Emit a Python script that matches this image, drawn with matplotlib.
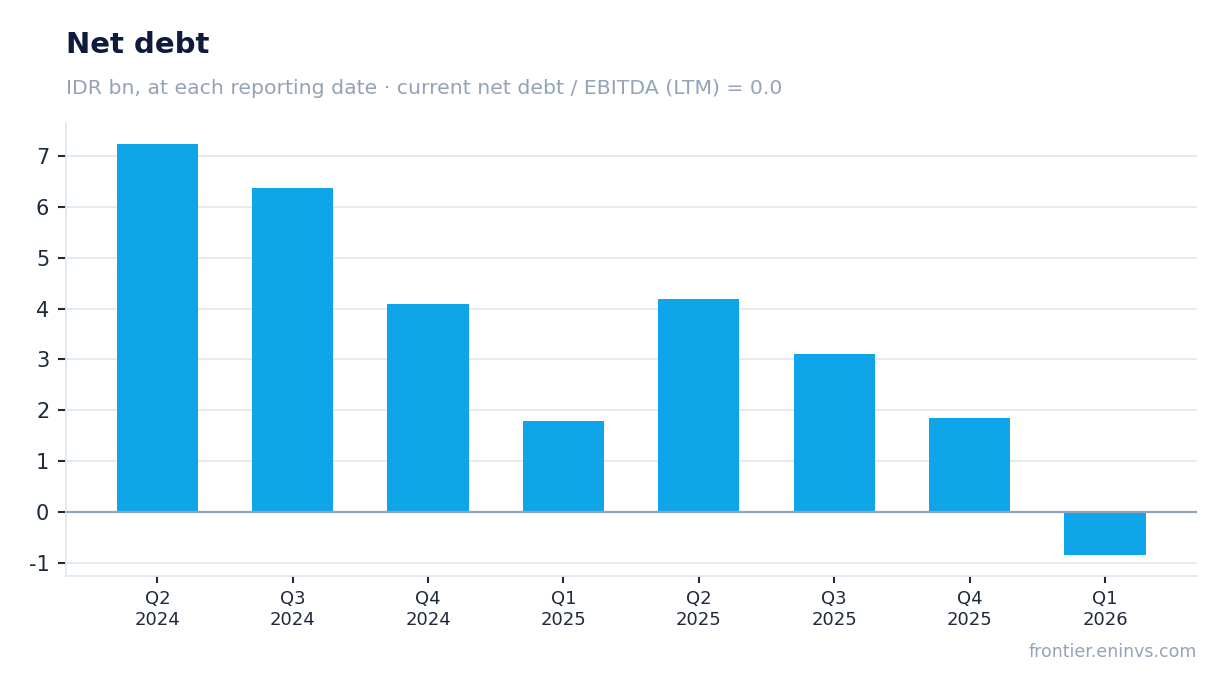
import matplotlib
matplotlib.use("Agg")
import matplotlib.pyplot as plt
from matplotlib.ticker import FuncFormatter

quarters = ["Q2\n2024", "Q3\n2024", "Q4\n2024", "Q1\n2025",
            "Q2\n2025", "Q3\n2025", "Q4\n2025", "Q1\n2026"]
net_debt = [7.24, 6.37, 4.09, 1.79, 4.19, 3.11, 1.85, -0.85]

BAR = "#0ea5e9"
GRID = "#e2e8f0"
MUTED = "#94a3b8"
INK = "#0f1b3d"
TICK = "#1e293b"

fig = plt.figure(figsize=(12.28, 6.93), dpi=100)
ax = fig.add_axes([0.0537, 0.1688, 0.9211, 0.6537])

x = range(len(quarters))
ax.bar(x, net_debt, width=0.6, color=BAR, zorder=3)
ax.axhline(0, color=MUTED, lw=1.6, zorder=4)

ax.set_xlim(-0.675, len(quarters) - 1 + 0.68)
ax.set_ylim(-1.26, 7.65)
ax.set_yticks(range(-1, 8))
ax.yaxis.set_major_formatter(FuncFormatter(lambda v, p: f"{v:.0f}"))
ax.set_xticks(list(x))
ax.set_xticklabels(quarters)

ax.grid(axis="y", color=GRID, lw=1.3, zorder=0)
for s in ["top", "right"]:
    ax.spines[s].set_visible(False)
for s in ["left", "bottom"]:
    ax.spines[s].set_color(GRID)
    ax.spines[s].set_linewidth(1.3)
ax.tick_params(axis="y", labelsize=15, colors=TICK, length=6, width=1.5, pad=6)
ax.tick_params(axis="x", labelsize=13, colors=TICK, length=5, width=1.5, pad=5)

fig.text(0.0537, 0.935, "Net debt", fontsize=21, fontweight="bold", color=INK, va="center")
fig.text(0.0537, 0.873, "IDR bn, at each reporting date \u00b7 current net debt / EBITDA (LTM) = 0.0",
         fontsize=14.7, color=MUTED, va="center")
fig.text(0.9748, 0.059, "frontier.eninvs.com", fontsize=12.5, color=MUTED, ha="right", va="center")

fig.savefig("out.png", dpi=100)
